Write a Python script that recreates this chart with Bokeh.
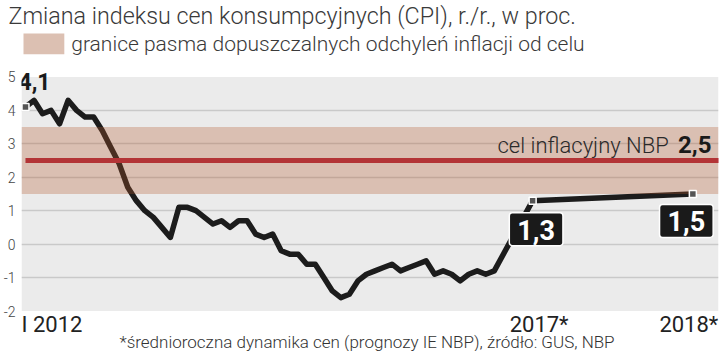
from bokeh.plotting import figure
from bokeh.models import Range1d, FixedTicker, Label, BoxAnnotation, Title
from bokeh.core.properties import value
from bokeh.embed import file_html
from bokeh.resources import INLINE

# ---------------- data ----------------
months = list(range(56))  # I 2012 ... VIII 2016
cpi = [4.1, 4.3, 3.9, 4.0, 3.6, 4.3, 4.0, 3.8, 3.8, 3.4, 2.9, 2.4,
       1.7, 1.3, 1.0, 0.8, 0.5, 0.2, 1.1, 1.1, 1.0, 0.8, 0.6, 0.7,
       0.5, 0.7, 0.7, 0.3, 0.2, 0.3, -0.2, -0.3, -0.3, -0.6, -0.6, -1.0,
       -1.4, -1.6, -1.5, -1.1, -0.9, -0.8, -0.7, -0.6, -0.8, -0.7, -0.6, -0.5,
       -0.9, -0.8, -0.9, -1.1, -0.9, -0.8, -0.9, -0.8]
forecast_labels = ["2017*", "2018*"]
forecast_x = [59.5, 78.3]
forecast_vals = [1.3, 1.5]
forecast_texts = ["1,3", "1,5"]
first_text = "4,1"
start_label = "I 2012"
band_low, band_high = 1.5, 3.5
target = 2.5
target_text = "2,5"
y_ticks = [-2, -1, 0, 1, 2, 3, 4, 5]
y_tick_labels = ["-2", "-1", "0", "1", "2", "3", "4", "5"]
grid_ticks = [-1, 0, 1, 2, 3, 4]
area_low, area_high = -2, 5

title_text = "Zmiana indeksu cen konsumpcyjnych (CPI), r./r., w proc."
legend_text = "granice pasma dopuszczalnych odchyleń inflacji od celu"
target_label = "cel inflacyjny NBP"
footnote = "*średnioroczna dynamika cen (prognozy IE NBP), źródło: GUS, NBP"

# ---------------- layout helpers (pixel -> data) ----------------
W, H = 720, 351
FL, FR, FT, FB = 18, 718, 26, 351        # frame box in pixels
PY5, PYM2 = 73.0, 310.0                  # pixel rows of 5 and -2
X0_PX, PX_PER_M = 22.0, 8.56
PX_PER_U = (PYM2 - PY5) / 7.0
x_start = (FL - X0_PX) / PX_PER_M
x_end = (FR - X0_PX) / PX_PER_M
y_max = 5 + (PY5 - FT) / PX_PER_U
y_min = -2 - (FB - PYM2) / PX_PER_U


def xd(px):
    return (px - X0_PX) / PX_PER_M


def yd(py):
    return 5 - (py - PY5) / PX_PER_U


LIGHT = "Roboto Light"
REG = "Roboto"

p = figure(width=W, height=H, output_backend="svg", toolbar_location=None,
           x_range=Range1d(x_start, x_end), y_range=Range1d(y_min, y_max),
           min_border_left=FL, min_border_right=W - FR,
           min_border_top=FT, min_border_bottom=0)
p.background_fill_color = "white"
p.border_fill_color = "white"
p.outline_line_color = None

p.title = Title(text=title_text, align="left", offset=-13, standoff=0,
                text_font=LIGHT, text_font_size="23.3px", text_color="#3a3a3a",
                text_font_style="normal", vertical_align="middle")

p.xaxis.visible = False
p.xgrid.grid_line_color = None
p.ygrid.ticker = FixedTicker(ticks=grid_ticks)
p.ygrid.grid_line_color = "#c9c9c9"
p.ygrid.grid_line_width = 1.5

p.yaxis.ticker = FixedTicker(ticks=y_ticks)
p.yaxis.major_label_overrides = {t: s for t, s in zip(y_ticks, y_tick_labels)}
p.yaxis.axis_line_color = None
p.yaxis.major_tick_line_color = None
p.yaxis.minor_tick_line_color = None
p.yaxis.major_tick_out = 0
p.yaxis.major_tick_in = 0
p.yaxis.minor_tick_out = 0
p.yaxis.minor_tick_in = 0
p.yaxis.major_label_standoff = 6
p.yaxis.major_label_text_font = LIGHT
p.yaxis.major_label_text_font_size = "14px"
p.yaxis.major_label_text_color = "#444444"

# plot area background
bg = p.quad(left=x_start, right=x_end, bottom=area_low, top=area_high,
            fill_color="#ebebeb", line_color=None)
bg.level = "image"

# data line
xs = months + forecast_x
ys = cpi + forecast_vals
p.line(xs, ys, line_color="#1c1c1c", line_width=5.5, line_join="round", line_cap="round")

# tolerance band (translucent over the line)
band = BoxAnnotation(bottom=band_low, top=band_high, fill_color="#b45a2d",
                     fill_alpha=0.3, line_color=None)
p.add_layout(band)

# target line
tl = p.line([months[0], x_end], [target, target], line_color="#b3243a", line_width=5)
tl.level = "annotation"

# markers
mk = p.scatter([months[0]] + forecast_x, [cpi[0]] + forecast_vals, marker="square",
               size=7, fill_color="#555555", line_color="white", line_width=1.5)
mk.level = "overlay"

# ---------------- texts ----------------
p.add_layout(BoxAnnotation(left=xd(20), right=xd(61), top=yd(29), bottom=yd(50),
                           fill_color="#dcc0b2", fill_alpha=1.0, line_color=None))
p.add_layout(Label(x=xd(68), y=yd(40), text=legend_text, text_font=LIGHT,
                   text_font_size="21px", text_color="#3a3a3a",
                   text_align="left", text_baseline="middle"))

p.add_layout(Label(x=months[0], y=cpi[0], x_offset=-7, y_offset=26, text=first_text,
                   text_font=REG, text_font_style="bold", text_font_size="23px",
                   text_color="#1a1a1a", text_align="left", text_baseline="middle"))

p.add_layout(Label(x=xd(668), y=target, y_offset=15, text=target_label, text_font=LIGHT,
                   text_font_size="22px", text_color="#2a2a2a",
                   text_align="right", text_baseline="middle"))
p.add_layout(Label(x=xd(711), y=target, y_offset=16, text=target_text, text_font=REG,
                   text_font_style="bold", text_font_size="24px", text_color="#1a1a1a",
                   text_align="right", text_baseline="middle"))

offsets = [(3.5, -28.5), (-6.5, -27)]
for fx, fv, ft, (ox, oy) in zip(forecast_x, forecast_vals, forecast_texts, offsets):
    lab = Label(x=fx, y=fv, x_offset=ox, y_offset=oy, text=ft, text_font=REG,
                text_font_style="bold", text_font_size="27px", text_color="white",
                text_align="center", text_baseline="middle",
                background_fill_color="#1a1a1a", border_line_color="white",
                border_line_width=1.5, padding=dict(left=8, right=8, top=7, bottom=6),
                border_radius=3)
    lab.level = "overlay"
    p.add_layout(lab)

# x labels
p.add_layout(Label(x=months[0], y=area_low, x_offset=-4, y_offset=-13, text=start_label,
                   text_font=REG, text_font_size="22px", text_color="#222222",
                   text_align="left", text_baseline="middle"))
for fx, fl, ox in zip(forecast_x, forecast_labels, [6.5, -4]):
    p.add_layout(Label(x=fx, y=area_low, x_offset=ox, y_offset=-13, text=fl,
                       text_font=REG, text_font_size="22px", text_color="#222222",
                       text_align="center", text_baseline="middle"))

p.add_layout(Label(x=xd(365), y=yd(341), text=footnote, text_font=LIGHT,
                   text_font_size="17px", text_color="#333333",
                   text_align="center", text_baseline="middle"))

open("out.html", "w").write(file_html(p, INLINE))
